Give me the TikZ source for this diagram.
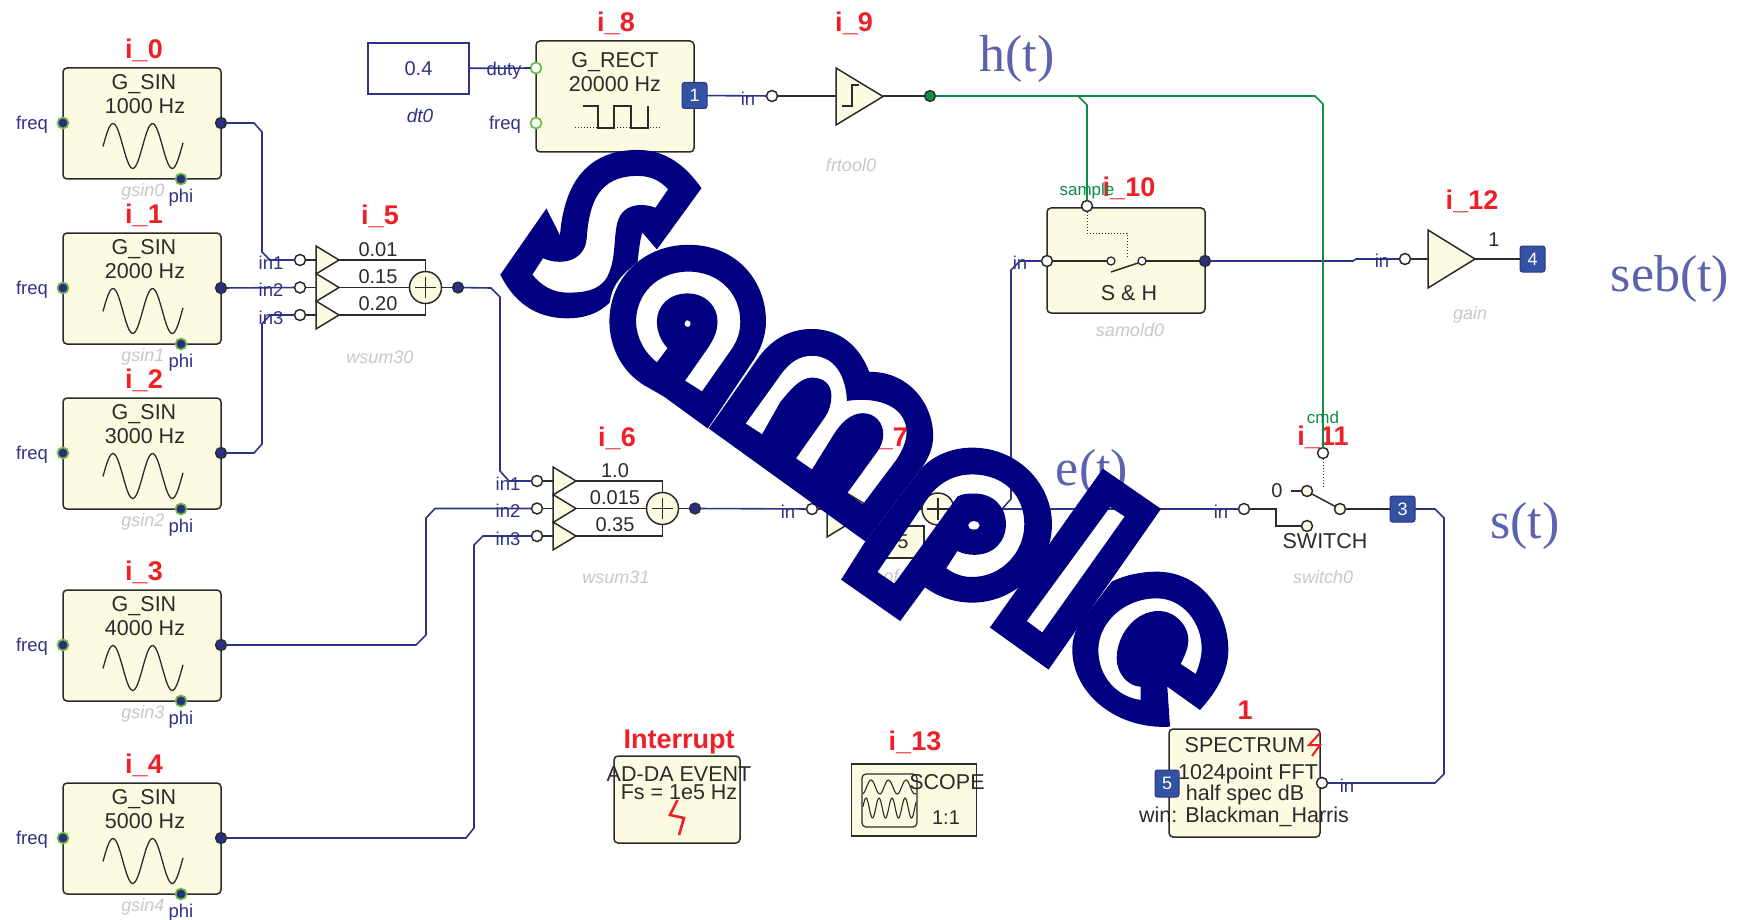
\documentclass[tikz,border=0pt]{standalone}
\usepackage{fontspec}
\setmainfont{Liberation Sans}
\newfontfamily\bigserif{Liberation Serif}
\definecolor{cream}{HTML}{FCFAE1}
\definecolor{wirenavy}{HTML}{2E3384}
\definecolor{portnavy}{HTML}{2A2F7F}
\definecolor{gline}{HTML}{0F8B45}
\definecolor{gring}{HTML}{6DBE45}
\definecolor{bluebox}{HTML}{3452A4}
\definecolor{redlab}{HTML}{EE2027}
\definecolor{wmark}{HTML}{000080}
\definecolor{bigtxt}{HTML}{5B62AE}
\definecolor{edge}{HTML}{2B2B2B}
\newcommand{\fs}[1]{\fontsize{#1}{#1}\selectfont}
\tikzset{
  x=1pt,y=-1pt,
  every node/.style={inner sep=0pt,outer sep=0pt},
  blockbox/.style={draw=edge,fill=cream,line width=1.5pt,rounded corners=4pt},
  wire/.style={draw=wirenavy,line width=1.6pt},
  gwire/.style={draw=gline,line width=1.6pt},
  bline/.style={draw=edge,line width=1.5pt},
  dotline/.style={draw=edge,line width=1pt,dotted},
  ilab/.style={text=redlab,font=\fs{27}\bfseries,yshift=-1pt},
  txt/.style={text=edge,font=\fs{21.5},yshift=-0.5pt},
  num/.style={text=edge,font=\fs{20},yshift=0.5pt},
  plab/.style={text=wirenavy,font=\fs{18.5},yshift=-2pt},
  glab/.style={text=gline,font=\fs{17},yshift=-1pt},
  nlab/.style={text=black!22,font=\fs{18}\itshape},
  big/.style={text=bigtxt,font=\fs{52}\bigserif,yshift=-4pt},
  outport/.style={circle,draw=edge,fill=portnavy,line width=1.3pt,minimum size=11pt},
  inport/.style={circle,draw=gring,fill=portnavy,line width=1.7pt,minimum size=11pt},
  gopen/.style={circle,draw=gring,fill=white,line width=1.7pt,minimum size=11pt},
  openport/.style={circle,draw=edge,fill=white,line width=1.5pt,minimum size=11pt},
  creamport/.style={circle,draw=edge,fill=cream,line width=1.5pt,minimum size=11pt},
  smallport/.style={circle,draw=edge,fill=cream,line width=1.3pt,minimum size=8pt},
  tagbox/.style={draw=wirenavy,fill=bluebox,rounded corners=2.5pt,line width=1pt,text=white,font=\fs{18},minimum width=25pt,minimum height=26pt},
  tri/.style={draw=edge,fill=cream,line width=1.5pt,line join=miter},
  wm/.style={fill=wmark,even odd rule},
}
\newcommand{\gsin}[5]{% name, y offset, freq text, i label, name label
\begin{scope}[shift={(0,#2)}]
  \node[ilab] (#1lab) at (144,49) {#4};
  \node[blockbox,minimum width=158pt,minimum height=111pt] (#1) at (142,123.5) {};
  \node[txt] (#1t) at (144,84) {G\_SIN};
  \node[txt] (#1f) at (145,106) {#3 Hz};
  \draw[bline,line width=1.3pt] plot[smooth,domain=103:183,samples=50] (\x,{146-22.5*cos(9.114*(\x-113))});
  \node[nlab] (#1n) at (143,192) {#5};
  \node[plab] (#1pl) at (181,196) {phi};
  \node[plab] (#1fl) at (32,123) {freq};
  \node[inport] (#1i) at (63,123) {};
  \node[outport] (#1o) at (221,123) {};
  \node[inport] (#1p) at (181,179) {};
\end{scope}}
\newcommand{\wsum}[6]{% name,x,y,a,b,c
\begin{scope}[shift={(#2,#3)}]
  \foreach \yy in {0,27.5,55}{
    \draw[bline] (39,\yy) -- (125.5,\yy);
  }
  \draw[bline] (125.5,0) -- (125.5,55);
  \draw[tri] (16,-14) -- (16,14) -- (39,0) -- cycle;
  \draw[tri] (16,13.5) -- (16,41.5) -- (39,27.5) -- cycle;
  \draw[tri] (16,41) -- (16,69) -- (39,55) -- cycle;
  \foreach \yy in {0,27.5,55}{\draw[bline] (4,\yy) -- (16,\yy);}
  \node[num] (#1a) at (78,-10) {#4};
  \node[num] (#1b) at (78,17) {#5};
  \node[num] (#1c) at (78,44) {#6};
  \node[circle,draw=edge,fill=cream,line width=1.5pt,minimum size=32pt] (#1s) at (125.5,27.5) {};
  \draw[bline,line width=1.1pt] (115,27.5) -- (136,27.5) (125.5,17) -- (125.5,38);
  \node[plab] (#1la) at (-29,0.5) {in1};
  \node[plab] (#1lb) at (-29,28) {in2};
  \node[plab] (#1lc) at (-29,55.5) {in3};
  \node[openport] (#1ia) at (0,0) {};
  \node[openport] (#1ib) at (0,27.5) {};
  \node[openport] (#1ic) at (0,55) {};
  \node[outport] (#1o) at (158,27.5) {};
  \draw[bline] (#1s) -- (#1o);
\end{scope}}
\begin{document}
\begin{tikzpicture}
\useasboundingbox (0,0) rectangle (1742,920);
\gsin{g0}{0}{1000}{i\_0}{gsin0}
\gsin{g1}{165}{2000}{i\_1}{gsin1}
\gsin{g2}{330}{3000}{i\_2}{gsin2}
\gsin{g3}{522}{4000}{i\_3}{gsin3}
\gsin{g4}{715}{5000}{i\_4}{gsin4}
\node[ilab] (i5) at (380,215) {i\_5};
\node[nlab] (wsum30n) at (380,357) {wsum30};
\wsum{w0}{300}{260}{0.01}{0.15}{0.20}
\node[ilab] (i6) at (617,437) {i\_6};
\node[nlab] (wsum31n) at (616,577) {wsum31};
\wsum{w1}{537}{481}{1.0}{0.015}{0.35}
\draw[wire] (g0o) -- (254,123) -- (262,132) -- (262,252) -- (270,260) -- (w0ia);
\draw[wire] (g1o) -- (w0ib);
\draw[wire] (g2o) -- (254,453) -- (262,444) -- (262,324) -- (270,315) -- (w0ic);
\draw[wire] (w0o) -- (491,288) -- (500,297) -- (500,471) -- (509,481) -- (w1ia);
\draw[wire] (g3o) -- (416,645) -- (426,635) -- (426,518) -- (435,508.5) -- (w1ib);
\draw[wire] (g4o) -- (466,838) -- (474,828) -- (474,545) -- (483,536) -- (w1ic);
% dt0
\node[draw=wirenavy,line width=1.4pt,minimum width=101pt,minimum height=51pt,text=wirenavy,font=\fs{20}] (dt) at (418.5,68.5) {0.4};
\node[text=wirenavy,font=\fs{19}\itshape] (dtn) at (420,116) {dt0};
% i_8
\node[ilab] (i8) at (616,22) {i\_8};
\node[blockbox,minimum width=158pt,minimum height=111pt] (rect) at (615,96.5) {};
\node[txt] (rectt) at (615,62) {G\_RECT};
\node[txt] (rectf) at (615,84) {20000 Hz};
\draw[bline,line width=1.1pt] (583,106) -- (598,106) -- (598,128) -- (614,128) -- (614,106) -- (631,106) -- (631,128) -- (648,128) -- (648,106);
\draw[dotline] (575,128) -- (661,128);
\node[plab] (dutyl) at (504,69) {duty};
\node[plab] (freql) at (505,123) {freq};
\node[gopen] (duty) at (536,68) {};
\node[gopen] (freqp) at (536,123) {};
\draw[wire] (dt) -- (duty);
\node[tagbox] (tag1) at (694.5,95.5) {1};
% i_9
\node[ilab] (i9) at (854,22) {i\_9};
\node[plab] (fin) at (748,97) {in};
\node[openport] (fi) at (772,96) {};
\draw[wire] (tag1) -- (fi);
\node[circle,draw=edge,fill=gline,line width=1.3pt,minimum size=11pt] (fo) at (930,96) {};
\draw[bline] (fi) -- (836,96);
\draw[bline] (883,96) -- (fo);
\draw[tri] (836,68) -- (836,125) -- (883,96.5) -- cycle;
\draw[bline,line width=1.1pt] (842,106) -- (852,106) -- (852,85) -- (859,85);
\node[nlab] (frn) at (851,165) {frtool0};
% S&H
\node[blockbox,minimum width=158pt,minimum height=105pt] (sh) at (1126,260.5) {};
\node[plab] (shinl) at (1020,261) {in};
\node[openport] (shi) at (1047,261) {};
\node[outport] (sho) at (1205,261) {};
\node[smallport,fill=white] (sc1) at (1111,261) {};
\node[smallport,fill=white] (sc2) at (1142,261) {};
\draw[bline] (shi) -- (sc1);
\draw[bline] (sc2) -- (sho);
\draw[bline] (1111,272) -- (1138,263);
\draw[dotline] (1087,212) -- (1087,233) -- (1127,233) -- (1127,258);
\node[txt] (sht) at (1129,293) {S \& H};
\node[nlab] (shn) at (1130,330) {samold0};
\node[openport] (samp) at (1087,206) {};
\node[ilab] (i10) at (1129,187) {i\_10};
\node[glab] (sampl) at (1087,190) {sample};
% gain
\node[ilab] (i12) at (1472,200) {i\_12};
\node[plab] (gil) at (1382,259) {in};
\node[openport] (gi) at (1405,259) {};
\draw[bline] (gi) -- (1428,259);
\draw[tri] (1428,230) -- (1428,288) -- (1475,259) -- cycle;
\node[tagbox] (tag4) at (1532.5,259) {4};
\draw[bline] (1475,259) -- (tag4);
\node[num] (g1v) at (1494,240) {1};
\node[nlab] (gn) at (1470,315) {gain};
\draw[wire] (sho) -- (1353,261) -- (1356,259) -- (gi);
% i_7
\node[ilab] (i7) at (889,437) {i\_7};
\node[plab] (lin) at (788,510) {in};
\node[openport] (li) at (812,509) {};
\draw[wire] (w1o) -- (li);
\node[coordinate] (tipl) at (873,509) {};
\draw[bline] (li) -- (827,509);
\draw[tri] (827,481) -- (827,537) -- (tipl) -- cycle;
\node[draw=edge,fill=cream,line width=1.5pt,minimum width=46pt,minimum height=32pt,anchor=north east] (k5) at (924,526) {};
\node[num] (k5t) at (903,542) {5};
\node[circle,draw=edge,fill=cream,line width=1.5pt,minimum size=32pt] (ls) at (938,509) {};
\draw[bline,line width=1.1pt] (927,509) -- (949,509) (938,498) -- (938,520);
\draw[bline] (tipl) -- (ls);
\node[nlab] (lfn) at (891,576) {of};
\node[outport] (lo) at (974,509) {};
\draw[bline] (ls) -- (lo);
% switch
\node[ilab] (i11) at (1323,436) {i\_11};
\node[plab] (swl) at (1221,510) {in};
\node[openport] (swi) at (1244,509) {};
\node[creamport] (swa) at (1307,491) {};
\node[creamport] (swb) at (1307,526) {};
\node[creamport] (swc) at (1340,509) {};
\draw[bline] (swi) -- (1276,509) -- (1276,526) -- (swb);
\draw[bline] (1291,491) -- (swa);
\draw[bline] (1312,494) -- (swc);
\node[num] (sw0) at (1277,491) {0};
\node[txt] (swt) at (1325,541) {SWITCH};
\node[nlab] (swn) at (1323,577) {switch0};
\node[tagbox] (tag3) at (1402.5,509) {3};
\draw[bline] (swc) -- (tag3);
\node[glab] (cmdl) at (1323,416) {cmd};
\node[openport] (cmd) at (1323,453) {};
\draw[dotline] (1323,459) -- (1323,489);
% green
\draw[gwire] (fo) -- (1315,96) -- (1323,104) -- (cmd);
\draw[gwire] (1078,96) -- (1087,105) -- (samp);
\draw[wire] (lo) -- (swi);
\draw[wire] (1002,509) -- (1011,499) -- (1011,270) -- (1020,261) -- (shi);
% spectrum
\node[ilab] (spl) at (1245,709) {1};
\node[blockbox,minimum width=151pt,minimum height=108pt] (spec) at (1244.5,783) {};
\node[txt] (spt) at (1245,745) {SPECTRUM};
\node[txt] (spa) at (1248,773) {1024point FFT};
\node[txt] (spb) at (1245,794) {half spec dB};
\node[txt] (spc) at (1244,816) {win: Blackman\_Harris};
\node[tagbox,minimum width=24pt,minimum height=27pt] (tag5) at (1167,783.5) {5};
\draw[redlab,line width=2pt] (1320,733) -- (1309,745) -- (1320,745) -- (1312,756);
\node[plab] (spil) at (1347,784) {in};
\node[openport] (spi) at (1322,783) {};
\draw[wire] (tag3) -- (1435,509) -- (1444,518) -- (1444,774) -- (1435,783) -- (spi);
% interrupt
\node[ilab] (intl) at (679,741) {Interrupt};
\node[blockbox,minimum width=126pt,minimum height=87pt] (intb) at (677,799.5) {};
\node[txt] (inta) at (679,774) {AD-DA EVENT};
\node[txt] (intf) at (679,792) {Fs = 1e5 Hz};
\draw[redlab,line width=2.6pt] (677.5,800) -- (670,815) -- (684,818) -- (679,835);
% scope
\node[ilab] (i13) at (915,741) {i\_13};
\node[draw=edge,fill=cream,line width=1.5pt,minimum width=125pt,minimum height=72pt] (scb) at (914,800) {};
\node[draw=edge,rounded corners=4pt,line width=1.2pt,minimum width=55pt,minimum height=53pt] (sci) at (889.5,800.5) {};
\draw[bline,line width=1.1pt] plot[smooth,domain=863:916,samples=60] (\x,{787-7*cos(20.57*(\x-871))});
\draw[bline,line width=1.1pt] plot[smooth,domain=863:916,samples=70] (\x,{808-10*cos(27.69*(\x-866))});
\node[txt] (scs) at (947,782) {SCOPE};
\node[num] (sc11) at (946,818) {1:1};
% big labels
\node[big] (ht) at (1017,55) {h(t)};
\node[big] (et) at (1092,469) {e(t)};
\node[big] (st) at (1525,522) {s(t)};
\node[big] (sebt) at (1670,275) {seb(t)};
% ---------- watermark
\begin{scope}[shift={(480,130)},x=0.4847pt,y=-0.3827pt]
% S
\fill[wm] (137,205) -- (165,275) .. controls (170,200) and (190,52) .. (325,52) .. controls (385,52) and (425,95) .. (457,152) -- (365,312) -- (335,268) .. controls (330,285) and (328,315) .. (325,345) .. controls (300,370) and (272,400) .. (268,450) .. controls (245,480) and (215,492) .. (180,492) .. controls (115,492) and (70,450) .. (42,378) -- cycle
 (108,378) -- (130,335) .. controls (165,355) and (215,345) .. (220,285) .. controls (225,190) and (245,120) .. (325,120) .. controls (350,120) and (370,130) .. (388,155) -- (362,203) .. controls (335,190) and (290,190) .. (282,250) .. controls (275,300) and (280,340) .. (262,385) .. controls (245,420) and (215,425) .. (180,425) .. controls (150,425) and (125,405) .. (108,378) -- cycle;
% a
\fill[wm] (470,780) -- (380,697) -- (350,675) .. controls (295,640) and (267,570) .. (267,500) .. controls (267,390) and (335,300) .. (430,300) .. controls (530,300) and (590,395) .. (590,500) .. controls (590,540) and (578,575) .. (565,600) -- cycle
 (430,370) .. controls (365,370) and (322,430) .. (322,500) .. controls (322,540) and (338,580) .. (365,607) -- (387,570) .. controls (372,550) and (365,525) .. (365,500) .. controls (365,460) and (390,427) .. (428,427) .. controls (465,427) and (490,460) .. (490,500) .. controls (490,530) and (480,550) .. (470,570) -- (423,655) -- (458,683) -- (515,580) .. controls (530,555) and (537,530) .. (537,500) .. controls (537,430) and (495,370) .. (430,370) -- cycle
 (428,497) .. controls (434,497) and (436,503) .. (434,510) .. controls (430,520) and (420,512) .. (422,505) .. controls (423,500) and (425,497) .. (428,497) -- cycle;
% m
\fill[wm] (472,780) -- (577,590) .. controls (605,545) and (640,520) .. (685,520) .. controls (745,520) and (785,570) .. (803,632) .. controls (880,630) and (935,710) .. (935,800) .. controls (935,830) and (925,860) .. (910,885) -- (795,1075) -- cycle
 (548,767) -- (620,640) .. controls (640,605) and (660,590) .. (685,590) .. controls (730,590) and (755,640) .. (757,708) .. controls (825,695) and (880,725) .. (880,790) .. controls (880,815) and (870,840) .. (860,860) -- (790,978) -- (757,950) -- (820,840) .. controls (828,825) and (832,810) .. (832,795) .. controls (832,765) and (815,740) .. (790,740) .. controls (765,740) and (745,765) .. (730,795) -- (685,887) -- (652,858) -- (712,750) .. controls (720,735) and (725,715) .. (725,695) .. controls (725,665) and (710,647) .. (685,647) .. controls (660,647) and (640,680) .. (620,710) -- (582,795) -- cycle;
% p
\fill[wm] (745,1175) -- (795,1075) -- (910,885) .. controls (935,850) and (975,830) .. (1015,830) .. controls (1110,830) and (1180,925) .. (1180,1030) .. controls (1180,1140) and (1105,1235) .. (1015,1235) .. controls (980,1235) and (945,1220) .. (918,1195) -- (867,1283) -- cycle
 (820,1155) -- (855,1185) -- (985,958) .. controls (995,950) and (1005,950) .. (1020,950) .. controls (1060,950) and (1085,985) .. (1085,1030) .. controls (1085,1075) and (1060,1110) .. (1020,1110) .. controls (1008,1110) and (995,1107) .. (985,1100) -- (962,1145) .. controls (978,1160) and (995,1168) .. (1015,1168) .. controls (1075,1168) and (1123,1105) .. (1123,1030) .. controls (1123,960) and (1085,900) .. (1015,900) .. controls (975,900) and (945,925) .. (925,960) -- cycle
 (1019,1022) .. controls (1027,1022) and (1031,1028) .. (1031,1033) .. controls (1031,1040) and (1026,1044) .. (1019,1044) .. controls (1012,1044) and (1007,1040) .. (1007,1033) .. controls (1007,1028) and (1012,1022) .. (1019,1022) -- cycle;
% l
\fill[wm] (1285,885) -- (1405,990) -- (1173,1410) -- (1052,1300) -- cycle
 (1300,985) -- (1330,1010) -- (1160,1313) -- (1128,1283) -- cycle;
\end{scope}
% e
\begin{scope}[shift={(1060,560)},x=0.3333pt,y=-0.3333pt]
\fill[wm] (155,65) .. controls (195,45) and (245,35) .. (290,35) .. controls (420,35) and (505,150) .. (505,270) .. controls (505,335) and (470,395) .. (420,450) -- (322,380) -- (330,500) .. controls (170,510) and (37,400) .. (37,270) .. controls (37,235) and (45,215) .. (60,190) -- cycle
 (290,115) .. controls (190,115) and (115,190) .. (115,270) .. controls (115,350) and (170,410) .. (242,420) -- (242,380) .. controls (205,380) and (170,340) .. (170,295) .. controls (170,225) and (225,153) .. (295,153) .. controls (345,153) and (385,195) .. (385,240) .. controls (385,260) and (378,280) .. (362,312) -- (407,342) .. controls (418,315) and (425,290) .. (425,265) .. controls (425,190) and (370,115) .. (290,115) -- cycle;
\end{scope}
\end{tikzpicture}
\end{document}
